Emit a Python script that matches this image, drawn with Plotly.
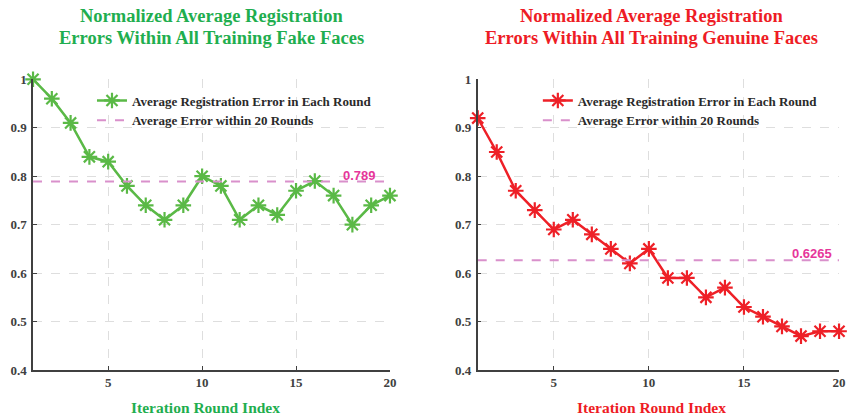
import plotly.graph_objects as go

rounds = list(range(1, 21))
fake_errors = [1.00, 0.96, 0.91, 0.84, 0.83, 0.78, 0.74, 0.71, 0.74, 0.80,
               0.78, 0.71, 0.74, 0.72, 0.77, 0.79, 0.76, 0.70, 0.74, 0.76]
genuine_errors = [0.92, 0.85, 0.77, 0.73, 0.69, 0.71, 0.68, 0.65, 0.62, 0.65,
                  0.59, 0.59, 0.55, 0.57, 0.53, 0.51, 0.49, 0.47, 0.48, 0.48]
fake_mean = 0.789
genuine_mean = 0.6265
x_ticks = [5, 10, 15, 20]
y_ticks = [0.4, 0.5, 0.6, 0.7, 0.8, 0.9, 1.0]
y_ticklabels = ["0.4", "0.5", "0.6", "0.7", "0.8", "0.9", "1"]

GREEN_LINE = "#5ab946"
GREEN_TEXT = "#1fae4f"
RED_LINE = "#ee2027"
RED_TEXT = "#ee1c25"
MEAN_LINE = "#d990cb"
MEAN_TEXT = "#e6369a"
SERIF = "Liberation Serif, Times New Roman, serif"
TICK_COLOR = "#404040"

fig = go.Figure()

panels = [
    ("x", "y", "legend", fake_errors, fake_mean, "0.789", GREEN_LINE, -12),
    ("x2", "y2", "legend2", genuine_errors, genuine_mean, "0.6265", RED_LINE, -5),
]
for xa, ya, lg, vals, mean, label, col, lshift in panels:
    fig.add_trace(go.Scatter(
        x=rounds, y=vals, xaxis=xa, yaxis=ya, legend=lg,
        mode="lines+markers", name="<b>Average Registration Error in Each Round</b>",
        line=dict(color=col, width=2.5),
        marker=dict(symbol="asterisk-open", size=13, color=col,
                    line=dict(color=col, width=2.2)),
        cliponaxis=False,
    ))
    fig.add_trace(go.Scatter(
        x=[rounds[0], rounds[-1]], y=[mean, mean], xaxis=xa, yaxis=ya, legend=lg,
        mode="lines", name="<b>Average Error within 20 Rounds</b>",
        line=dict(color=MEAN_LINE, width=2, dash="dash"),
    ))
    fig.add_annotation(
        x=rounds[-1], y=mean, xref=xa, yref=ya, text="<b>" + label + "</b>",
        showarrow=False, xanchor="right", yanchor="bottom", xshift=lshift, yshift=-3,
        font=dict(family="Liberation Sans, Arial, sans-serif", size=13, color=MEAN_TEXT),
    )

axis_common = dict(
    showline=True, linecolor=TICK_COLOR, linewidth=1.5,
    ticks="inside", ticklen=4, tickcolor=TICK_COLOR, tickwidth=1,
    showgrid=True, gridcolor="#dedede", griddash="dash", gridwidth=1,
    zeroline=False, mirror=False, automargin=False,
    tickfont=dict(family=SERIF, size=13, color=TICK_COLOR),
)
x_ticktext = ["<b>%d</b>" % t for t in x_ticks]
y_ticktext = ["<b>%s</b>" % t for t in y_ticklabels]

fig.update_layout(
    width=847, height=417,
    margin=dict(l=0, r=0, t=0, b=0, autoexpand=False),
    paper_bgcolor="white", plot_bgcolor="white",
    xaxis=dict(domain=[0.0390, 0.4604], range=[1, 20], tickvals=x_ticks,
               ticktext=x_ticktext, anchor="y", **axis_common),
    yaxis=dict(domain=[0.1127, 0.8098], range=[0.4, 1.0], tickvals=y_ticks,
               ticktext=y_ticktext, anchor="x", ticklabelstandoff=2, **axis_common),
    xaxis2=dict(domain=[0.5640, 0.9906], range=[1, 20], tickvals=x_ticks,
                ticktext=x_ticktext, anchor="y2", **axis_common),
    yaxis2=dict(domain=[0.1127, 0.8098], range=[0.4, 1.0], tickvals=y_ticks,
                ticktext=y_ticktext, anchor="x2", ticklabelstandoff=2, **axis_common),
    legend=dict(x=0.1086, y=0.795, xanchor="left", yanchor="top",
                bgcolor="rgba(0,0,0,0)", tracegroupgap=0,
                font=dict(family=SERIF, size=13, color="#2a2a2a")),
    legend2=dict(x=0.635, y=0.795, xanchor="left", yanchor="top",
                 bgcolor="rgba(0,0,0,0)", tracegroupgap=0,
                 font=dict(family=SERIF, size=13, color="#2a2a2a")),
    showlegend=True,
)

title_lines = [
    (211.5, ["Normalized Average Registration", "Errors Within All Training Fake Faces"], GREEN_TEXT),
    (651.5, ["Normalized Average Registration", "Errors Within All Training Genuine Faces"], RED_TEXT),
]
for xc, lines, col in title_lines:
    for ypx, txt in zip([16, 38], lines):
        fig.add_annotation(x=xc / 847, y=1 - ypx / 417, xref="paper", yref="paper",
                           text="<b>" + txt + "</b>", showarrow=False,
                           xanchor="center", yanchor="middle",
                           font=dict(family=SERIF, size=18.5, color=col))

xtitles = [(205.5, GREEN_TEXT), (651.0, RED_TEXT)]
for xc, col in xtitles:
    fig.add_annotation(x=xc / 847, y=(417 - 407) / 417, xref="paper", yref="paper",
                       text="<b>Iteration Round Index</b>", showarrow=False,
                       xanchor="center", yanchor="middle",
                       font=dict(family=SERIF, size=15.5, color=col))

fig.write_html("out.html",
               config={"displayModeBar": False},
               post_script="document.body.style.margin='0';document.body.style.overflow='hidden';")
